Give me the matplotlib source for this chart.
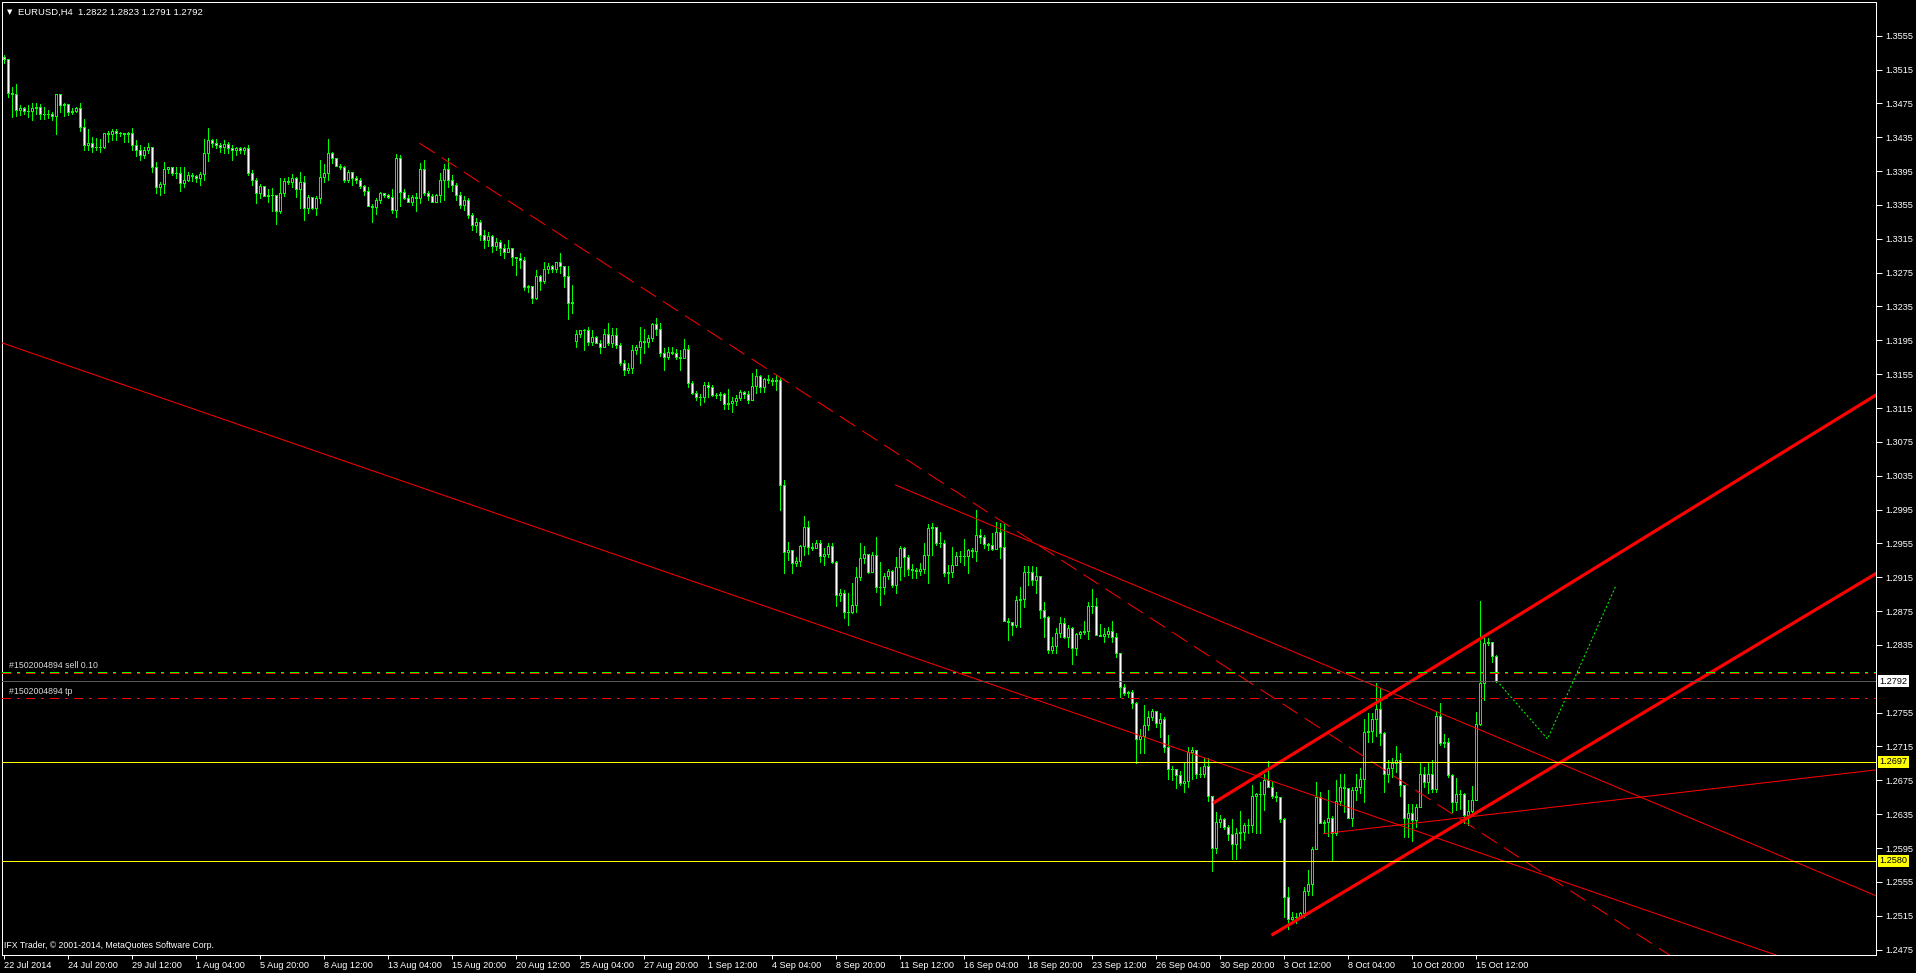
import matplotlib
matplotlib.use('Agg')
import matplotlib.pyplot as plt
import matplotlib.transforms as mtransforms

plt.rcParams['font.family'] = ['Liberation Sans', 'DejaVu Sans']
plt.rcParams['lines.scale_dashes'] = False

# EURUSD H4, one entry per bar, bar 0 = first bar at the left edge
closes = [
    1.3527, 1.3487, 1.3486, 1.3467, 1.3469, 1.3466, 1.3466, 1.3469, 1.3471, 1.3463,
    1.3462, 1.3463, 1.3460, 1.3486, 1.3473, 1.3474, 1.3465, 1.3466, 1.3469, 1.3447,
    1.3426, 1.3428, 1.3424, 1.3424, 1.3423, 1.3440, 1.3439, 1.3442, 1.3440, 1.3440,
    1.3439, 1.3440, 1.3426, 1.3420, 1.3414, 1.3420, 1.3423, 1.3400, 1.3376, 1.3380,
    1.3397, 1.3400, 1.3393, 1.3393, 1.3381, 1.3385, 1.3390, 1.3389, 1.3387, 1.3391,
    1.3416, 1.3432, 1.3428, 1.3426, 1.3424, 1.3427, 1.3422, 1.3420, 1.3422, 1.3420,
    1.3422, 1.3393, 1.3385, 1.3369, 1.3377, 1.3365, 1.3367, 1.3367, 1.3348, 1.3369,
    1.3383, 1.3382, 1.3387, 1.3374, 1.3382, 1.3351, 1.3364, 1.3351, 1.3363, 1.3388,
    1.3393, 1.3416, 1.3410, 1.3401, 1.3400, 1.3385, 1.3394, 1.3387, 1.3385, 1.3377,
    1.3372, 1.3354, 1.3352, 1.3361, 1.3369, 1.3367, 1.3364, 1.3349, 1.3411, 1.3370,
    1.3363, 1.3359, 1.3364, 1.3363, 1.3397, 1.3369, 1.3365, 1.3359, 1.3367, 1.3384,
    1.3397, 1.3385, 1.3378, 1.3367, 1.3355, 1.3361, 1.3343, 1.3331, 1.3335, 1.3319,
    1.3313, 1.3318, 1.3307, 1.3311, 1.3304, 1.3299, 1.3304, 1.3293, 1.3292, 1.3290,
    1.3258, 1.3259, 1.3245, 1.3271, 1.3265, 1.3279, 1.3283, 1.3279, 1.3287, 1.3283,
    1.3271, 1.3239, 1.3240, 1.3202, 1.3207, 1.3207, 1.3193, 1.3199, 1.3192, 1.3187,
    1.3203, 1.3192, 1.3201, 1.3190, 1.3168, 1.3160, 1.3162, 1.3183, 1.3187, 1.3194,
    1.3193, 1.3198, 1.3214, 1.3208, 1.3180, 1.3175, 1.3181, 1.3180, 1.3175, 1.3174,
    1.3185, 1.3144, 1.3133, 1.3128, 1.3128, 1.3142, 1.3140, 1.3130, 1.3130, 1.3131,
    1.3120, 1.3121, 1.3123, 1.3127, 1.3134, 1.3131, 1.3125, 1.3141, 1.3153, 1.3140,
    1.3149, 1.3148, 1.3147, 1.3148, 1.3024, 1.2945, 1.2947, 1.2932, 1.2934, 1.2952,
    1.2974, 1.2951, 1.2949, 1.2956, 1.2940, 1.2942, 1.2952, 1.2933, 1.2894, 1.2896,
    1.2874, 1.2874, 1.2882, 1.2915, 1.2938, 1.2942, 1.2921, 1.2941, 1.2903, 1.2903,
    1.2916, 1.2922, 1.2906, 1.2927, 1.2949, 1.2939, 1.2925, 1.2923, 1.2922, 1.2925,
    1.2941, 1.2973, 1.2974, 1.2955, 1.2956, 1.2920, 1.2921, 1.2930, 1.2940, 1.2940,
    1.2940, 1.2947, 1.2946, 1.2965, 1.2962, 1.2954, 1.2953, 1.2948, 1.2968, 1.2951,
    1.2863, 1.2862, 1.2858, 1.2888, 1.2889, 1.2921, 1.2921, 1.2912, 1.2917, 1.2876,
    1.2868, 1.2829, 1.2834, 1.2849, 1.2861, 1.2844, 1.2855, 1.2831, 1.2848, 1.2850,
    1.2851, 1.2881, 1.2881, 1.2847, 1.2845, 1.2848, 1.2852, 1.2844, 1.2825, 1.2785,
    1.2778, 1.2779, 1.2766, 1.2724, 1.2727, 1.2740, 1.2750, 1.2757, 1.2743, 1.2747,
    1.2714, 1.2688, 1.2688, 1.2681, 1.2672, 1.2674, 1.2709, 1.2711, 1.2683, 1.2683,
    1.2692, 1.2657, 1.2595, 1.2626, 1.2629, 1.2620, 1.2611, 1.2600, 1.2613, 1.2614,
    1.2622, 1.2622, 1.2657, 1.2659, 1.2659, 1.2675, 1.2667, 1.2657, 1.2655, 1.2629,
    1.2537, 1.2511, 1.2514, 1.2513, 1.2518, 1.2544, 1.2553, 1.2594, 1.2655, 1.2624,
    1.2626, 1.2631, 1.2613, 1.2650, 1.2667, 1.2666, 1.2631, 1.2663, 1.2667, 1.2676,
    1.2732, 1.2733, 1.2748, 1.2759, 1.2731, 1.2683, 1.2689, 1.2696, 1.2699, 1.2669,
    1.2630, 1.2636, 1.2628, 1.2644, 1.2682, 1.2673, 1.2682, 1.2665, 1.2751, 1.2719,
    1.2720, 1.2681, 1.2649, 1.2659, 1.2659, 1.2634, 1.2639, 1.2652, 1.2742, 1.2790,
    1.2837, 1.2839, 1.2822, 1.2792,
]
highs = [
    1.3532, 1.3526, 1.3494, 1.3498, 1.3473, 1.3471, 1.3473, 1.3475, 1.3475, 1.3474,
    1.3471, 1.3467, 1.3465, 1.3486, 1.3486, 1.3475, 1.3473, 1.3469, 1.3471, 1.3476,
    1.3456, 1.3445, 1.3435, 1.3434, 1.3433, 1.3440, 1.3442, 1.3445, 1.3445, 1.3441,
    1.3440, 1.3441, 1.3446, 1.3432, 1.3426, 1.3424, 1.3428, 1.3411, 1.3406, 1.3382,
    1.3406, 1.3400, 1.3400, 1.3400, 1.3400, 1.3400, 1.3394, 1.3393, 1.3390, 1.3394,
    1.3433, 1.3446, 1.3433, 1.3433, 1.3428, 1.3432, 1.3429, 1.3426, 1.3423, 1.3423,
    1.3423, 1.3426, 1.3396, 1.3387, 1.3380, 1.3376, 1.3374, 1.3375, 1.3367, 1.3387,
    1.3387, 1.3388, 1.3391, 1.3388, 1.3394, 1.3389, 1.3367, 1.3364, 1.3365, 1.3408,
    1.3403, 1.3433, 1.3417, 1.3410, 1.3403, 1.3401, 1.3396, 1.3394, 1.3389, 1.3387,
    1.3378, 1.3376, 1.3356, 1.3363, 1.3370, 1.3369, 1.3368, 1.3374, 1.3415, 1.3414,
    1.3374, 1.3367, 1.3367, 1.3369, 1.3404, 1.3408, 1.3371, 1.3368, 1.3368, 1.3393,
    1.3403, 1.3410, 1.3390, 1.3381, 1.3370, 1.3365, 1.3363, 1.3346, 1.3339, 1.3337,
    1.3325, 1.3323, 1.3320, 1.3316, 1.3313, 1.3309, 1.3313, 1.3304, 1.3294, 1.3298,
    1.3293, 1.3260, 1.3258, 1.3278, 1.3272, 1.3287, 1.3286, 1.3284, 1.3287, 1.3298,
    1.3283, 1.3283, 1.3260, 1.3207, 1.3207, 1.3208, 1.3211, 1.3207, 1.3200, 1.3195,
    1.3208, 1.3215, 1.3209, 1.3209, 1.3192, 1.3172, 1.3168, 1.3189, 1.3189, 1.3211,
    1.3208, 1.3201, 1.3215, 1.3221, 1.3215, 1.3186, 1.3187, 1.3187, 1.3185, 1.3183,
    1.3196, 1.3190, 1.3147, 1.3135, 1.3131, 1.3146, 1.3146, 1.3142, 1.3133, 1.3134,
    1.3133, 1.3137, 1.3128, 1.3130, 1.3136, 1.3135, 1.3135, 1.3156, 1.3161, 1.3154,
    1.3150, 1.3154, 1.3150, 1.3154, 1.3152, 1.3030, 1.2957, 1.2946, 1.2939, 1.2953,
    1.2987, 1.2981, 1.2956, 1.2959, 1.2959, 1.2949, 1.2956, 1.2955, 1.2934, 1.2901,
    1.2900, 1.2896, 1.2908, 1.2927, 1.2956, 1.2952, 1.2943, 1.2945, 1.2962, 1.2933,
    1.2920, 1.2925, 1.2923, 1.2939, 1.2952, 1.2951, 1.2941, 1.2931, 1.2926, 1.2932,
    1.2955, 1.2978, 1.2979, 1.2974, 1.2968, 1.2959, 1.2929, 1.2951, 1.2945, 1.2946,
    1.2960, 1.2948, 1.2949, 1.2994, 1.2972, 1.2965, 1.2956, 1.2967, 1.2980, 1.2979,
    1.2978, 1.2867, 1.2861, 1.2893, 1.2903, 1.2928, 1.2928, 1.2928, 1.2927, 1.2915,
    1.2886, 1.2869, 1.2844, 1.2855, 1.2868, 1.2867, 1.2858, 1.2856, 1.2849, 1.2852,
    1.2863, 1.2886, 1.2901, 1.2890, 1.2860, 1.2855, 1.2856, 1.2863, 1.2849, 1.2826,
    1.2789, 1.2780, 1.2782, 1.2767, 1.2736, 1.2764, 1.2757, 1.2759, 1.2757, 1.2754,
    1.2750, 1.2728, 1.2692, 1.2687, 1.2686, 1.2697, 1.2714, 1.2714, 1.2699, 1.2691,
    1.2701, 1.2701, 1.2655, 1.2637, 1.2634, 1.2631, 1.2622, 1.2629, 1.2619, 1.2639,
    1.2624, 1.2629, 1.2669, 1.2660, 1.2673, 1.2682, 1.2698, 1.2673, 1.2661, 1.2655,
    1.2630, 1.2549, 1.2519, 1.2518, 1.2519, 1.2549, 1.2569, 1.2596, 1.2673, 1.2661,
    1.2628, 1.2663, 1.2633, 1.2675, 1.2682, 1.2682, 1.2655, 1.2667, 1.2683, 1.2689,
    1.2748, 1.2754, 1.2754, 1.2790, 1.2784, 1.2732, 1.2699, 1.2701, 1.2715, 1.2707,
    1.2670, 1.2647, 1.2647, 1.2647, 1.2697, 1.2691, 1.2697, 1.2699, 1.2757, 1.2766,
    1.2730, 1.2725, 1.2682, 1.2678, 1.2663, 1.2660, 1.2652, 1.2668, 1.2756, 1.2887,
    1.2843, 1.2843, 1.2838, 1.2823,
]
lows = [
    1.3523, 1.3482, 1.3459, 1.3460, 1.3461, 1.3462, 1.3459, 1.3455, 1.3462, 1.3456,
    1.3456, 1.3458, 1.3455, 1.3439, 1.3465, 1.3460, 1.3461, 1.3462, 1.3465, 1.3442,
    1.3420, 1.3420, 1.3417, 1.3420, 1.3417, 1.3422, 1.3429, 1.3432, 1.3432, 1.3436,
    1.3429, 1.3429, 1.3420, 1.3413, 1.3408, 1.3411, 1.3416, 1.3394, 1.3369, 1.3367,
    1.3369, 1.3393, 1.3390, 1.3387, 1.3371, 1.3376, 1.3383, 1.3383, 1.3382, 1.3378,
    1.3384, 1.3407, 1.3424, 1.3422, 1.3417, 1.3416, 1.3416, 1.3408, 1.3414, 1.3416,
    1.3415, 1.3390, 1.3378, 1.3357, 1.3363, 1.3365, 1.3359, 1.3348, 1.3333, 1.3345,
    1.3365, 1.3380, 1.3376, 1.3364, 1.3351, 1.3337, 1.3346, 1.3350, 1.3343, 1.3357,
    1.3382, 1.3385, 1.3404, 1.3401, 1.3397, 1.3382, 1.3382, 1.3378, 1.3381, 1.3375,
    1.3367, 1.3354, 1.3335, 1.3344, 1.3357, 1.3364, 1.3363, 1.3346, 1.3341, 1.3354,
    1.3362, 1.3358, 1.3355, 1.3348, 1.3357, 1.3367, 1.3361, 1.3358, 1.3358, 1.3359,
    1.3361, 1.3376, 1.3372, 1.3361, 1.3351, 1.3349, 1.3339, 1.3325, 1.3323, 1.3313,
    1.3304, 1.3307, 1.3299, 1.3302, 1.3296, 1.3292, 1.3299, 1.3284, 1.3272, 1.3280,
    1.3254, 1.3252, 1.3239, 1.3244, 1.3254, 1.3263, 1.3274, 1.3276, 1.3276, 1.3274,
    1.3258, 1.3220, 1.3227, 1.3187, 1.3199, 1.3183, 1.3190, 1.3189, 1.3192, 1.3180,
    1.3187, 1.3189, 1.3187, 1.3186, 1.3166, 1.3154, 1.3156, 1.3156, 1.3179, 1.3168,
    1.3180, 1.3187, 1.3194, 1.3201, 1.3177, 1.3160, 1.3173, 1.3179, 1.3173, 1.3160,
    1.3176, 1.3140, 1.3131, 1.3124, 1.3118, 1.3122, 1.3128, 1.3129, 1.3127, 1.3125,
    1.3114, 1.3114, 1.3110, 1.3118, 1.3124, 1.3127, 1.3121, 1.3124, 1.3133, 1.3134,
    1.3134, 1.3144, 1.3142, 1.3136, 1.2994, 1.2920, 1.2935, 1.2920, 1.2928, 1.2928,
    1.2941, 1.2943, 1.2947, 1.2949, 1.2933, 1.2929, 1.2939, 1.2932, 1.2881, 1.2887,
    1.2867, 1.2858, 1.2873, 1.2874, 1.2912, 1.2932, 1.2920, 1.2921, 1.2897, 1.2882,
    1.2895, 1.2913, 1.2903, 1.2896, 1.2912, 1.2916, 1.2918, 1.2914, 1.2914, 1.2918,
    1.2920, 1.2908, 1.2941, 1.2953, 1.2951, 1.2916, 1.2908, 1.2915, 1.2929, 1.2933,
    1.2929, 1.2920, 1.2939, 1.2934, 1.2955, 1.2949, 1.2947, 1.2947, 1.2956, 1.2938,
    1.2863, 1.2841, 1.2847, 1.2856, 1.2856, 1.2880, 1.2906, 1.2906, 1.2896, 1.2867,
    1.2844, 1.2826, 1.2826, 1.2825, 1.2844, 1.2843, 1.2832, 1.2813, 1.2823, 1.2843,
    1.2848, 1.2842, 1.2873, 1.2847, 1.2845, 1.2838, 1.2844, 1.2838, 1.2821, 1.2773,
    1.2776, 1.2773, 1.2761, 1.2695, 1.2707, 1.2707, 1.2734, 1.2746, 1.2738, 1.2726,
    1.2708, 1.2676, 1.2675, 1.2666, 1.2669, 1.2661, 1.2667, 1.2676, 1.2678, 1.2679,
    1.2679, 1.2650, 1.2568, 1.2589, 1.2620, 1.2618, 1.2604, 1.2582, 1.2582, 1.2595,
    1.2604, 1.2613, 1.2614, 1.2613, 1.2613, 1.2640, 1.2667, 1.2654, 1.2651, 1.2626,
    1.2513, 1.2499, 1.2506, 1.2506, 1.2513, 1.2514, 1.2540, 1.2539, 1.2594, 1.2624,
    1.2613, 1.2609, 1.2581, 1.2610, 1.2646, 1.2637, 1.2630, 1.2621, 1.2652, 1.2660,
    1.2649, 1.2720, 1.2720, 1.2727, 1.2717, 1.2661, 1.2673, 1.2679, 1.2685, 1.2657,
    1.2608, 1.2608, 1.2603, 1.2620, 1.2643, 1.2667, 1.2660, 1.2661, 1.2661, 1.2717,
    1.2714, 1.2679, 1.2637, 1.2640, 1.2641, 1.2624, 1.2622, 1.2636, 1.2652, 1.2740,
    1.2770, 1.2835, 1.2815, 1.2791,
]
first_open = 1.3530
gap_opens = {143: 1.3194}  # weekend gap bar

# x axis labels: (bar index, text)
time_ticks = [0, 16, 32, 48, 64, 80, 96, 112, 128, 144, 160, 176, 192, 208, 224, 240,
              256, 272, 288, 304, 320, 336, 352, 368]
time_labels = ['22 Jul 2014', '24 Jul 20:00', '29 Jul 12:00', '1 Aug 04:00', '5 Aug 20:00',
               '8 Aug 12:00', '13 Aug 04:00', '15 Aug 20:00', '20 Aug 12:00', '25 Aug 04:00',
               '27 Aug 20:00', '1 Sep 12:00', '4 Sep 04:00', '8 Sep 20:00', '11 Sep 12:00',
               '16 Sep 04:00', '18 Sep 20:00', '23 Sep 12:00', '26 Sep 04:00', '30 Sep 20:00',
               '3 Oct 12:00', '8 Oct 04:00', '10 Oct 20:00', '15 Oct 12:00']
price_ticks = [1.3555, 1.3515, 1.3475, 1.3435, 1.3395, 1.3355, 1.3315, 1.3275, 1.3235,
               1.3195, 1.3155, 1.3115, 1.3075, 1.3035, 1.2995, 1.2955, 1.2915, 1.2875,
               1.2835, 1.2755, 1.2715, 1.2675, 1.2635, 1.2595, 1.2555, 1.2515, 1.2475]

# trend lines: (bar, price) anchors
long_line = [(-1, 1.3193), (300, 1.2702)]
dashed_line = [(104, 1.3428), (374, 1.2599)]
mid_line = [(223, 1.3024), (374, 1.2725)]
low_line = [(330, 1.2612), (374, 1.2636)]
channel_top = [(302.4, 1.2648), (468, 1.3130)]
channel_bottom = [(317, 1.2492), (468, 1.2919)]
support_levels = [1.2697, 1.2580]
sell_price = 1.2802
tp_price = 1.2772
bid_price = 1.2792
forecast_x = [374, 386, 403]
forecast_y = [1.2789, 1.2724, 1.2904]

W, H = 1916, 973
PX = 0.72  # one pixel in points
fig = plt.figure(figsize=(W / 100, H / 100), dpi=100, facecolor='black')
ax = fig.add_axes([2 / W, 18 / H, 1874 / W, 953 / H])
ax.set_facecolor('black')
ax.set_xlim(-0.375, 468.125)
ax.set_ylim(1.24686, 1.35948)
pip_px = (1.35948 - 1.24686) / 953  # price per pixel row

lime = '#00ff00'
opens = [first_open] + closes[:-1]   # each H4 bar opens at the previous close
for k, v in gap_opens.items():
    opens[k] = v

n = len(closes)
xs = list(range(n))
hi = [max(highs[i], opens[i], closes[i]) for i in xs]
lo = [min(lows[i], opens[i], closes[i]) for i in xs]
ax.vlines(xs, lo, hi, color=lime, lw=PX, antialiased=False, zorder=2)
bottoms = [min(opens[i], closes[i]) for i in xs]
heights = [abs(closes[i] - opens[i]) for i in xs]
faces = ['black' if closes[i] >= opens[i] else 'white' for i in xs]
ax.bar(xs, heights, bottom=bottoms, width=0.5, color=faces, edgecolor=lime,
       linewidth=PX, antialiased=False, zorder=3)


def ray(pts, x_end=470, x_start=None):
    (x1, y1), (x2, y2) = pts
    s = (y2 - y1) / (x2 - x1)
    xa = x1 if x_start is None else x_start
    return [xa, x_end], [y1 + s * (xa - x1), y1 + s * (x_end - x1)]


red = '#ff0000'
lx, ly = ray(long_line, x_start=-5)
ax.plot(lx, ly, color=red, lw=PX, zorder=4)
lx, ly = ray(dashed_line)
ax.plot(lx, ly, color=red, lw=PX, dashes=(13, 6), zorder=4)
lx, ly = ray(mid_line)
ax.plot(lx, ly, color=red, lw=PX, zorder=4)
lx, ly = ray(low_line)
ax.plot(lx, ly, color=red, lw=PX, zorder=4)
for pts in (channel_top, channel_bottom):
    lx, ly = ray(pts)
    ax.plot(lx, ly, color=red, lw=2.3, zorder=4, solid_capstyle='butt')

dashdot = (5.8, 5.0, 1.8, 4.7)
for lvl in support_levels:
    ax.axhline(lvl, color='#ffff00', lw=PX, zorder=4, antialiased=False)
ax.axhline(sell_price, color=red, lw=PX, dashes=dashdot, zorder=4, antialiased=False)
ax.axhline(sell_price + pip_px, color=lime, lw=PX, dashes=dashdot, zorder=4, antialiased=False)
ax.axhline(tp_price, color=red, lw=PX, dashes=dashdot, zorder=4, antialiased=False)
ax.axhline(bid_price, color='#5a5a5a', lw=PX, zorder=4, antialiased=False)
ax.plot(forecast_x, forecast_y, color=lime, lw=PX, dashes=(1.5, 1.5), zorder=4)

for s in ax.spines.values():
    s.set_color('white')
    s.set_linewidth(PX)
ax.yaxis.tick_right()
ax.set_yticks(price_ticks)
ax.set_yticklabels(['%.4f' % p for p in price_ticks])
ax.tick_params(axis='y', colors='white', direction='out', length=4, width=PX,
               labelsize=6.6, pad=3)
ax.set_xticks(time_ticks)
ax.set_xticklabels(time_labels, ha='left')
ax.tick_params(axis='x', colors='white', direction='out', length=3, width=PX,
               labelsize=6.6, pad=1)

tr = mtransforms.blended_transform_factory(ax.transAxes, ax.transData)
for lvl, face in [(support_levels[0], '#ffff00'), (support_levels[1], '#ffff00'), (bid_price, 'white')]:
    ax.text(1.002, lvl, '%.4f' % lvl, transform=tr, fontsize=6.6, color='black', va='center',
            ha='left', bbox=dict(boxstyle='square,pad=0.15', fc=face, ec='none'), zorder=6)

fig.text(7 / W, 1 - 12 / H, '\u25bc', color='white', fontsize=5, va='center',
         family='DejaVu Sans')
fig.text(18 / W, 1 - 12 / H, 'EURUSD,H4  1.2822 1.2823 1.2791 1.2792', color='white',
         fontsize=6.8, va='center')
fig.text(9 / W, 1 - 665 / H, '#1502004894 sell 0.10', color='#d8d8d8', fontsize=6.3, va='center')
fig.text(9 / W, 1 - 692 / H, '#1502004894 tp', color='#d8d8d8', fontsize=6.3, va='center')
fig.text(4 / W, 1 - 945 / H, 'IFX Trader, \u00a9 2001-2014, MetaQuotes Software Corp.',
         color='white', fontsize=6.3, va='center')

fig.savefig('out.png', dpi=100, facecolor='black')
